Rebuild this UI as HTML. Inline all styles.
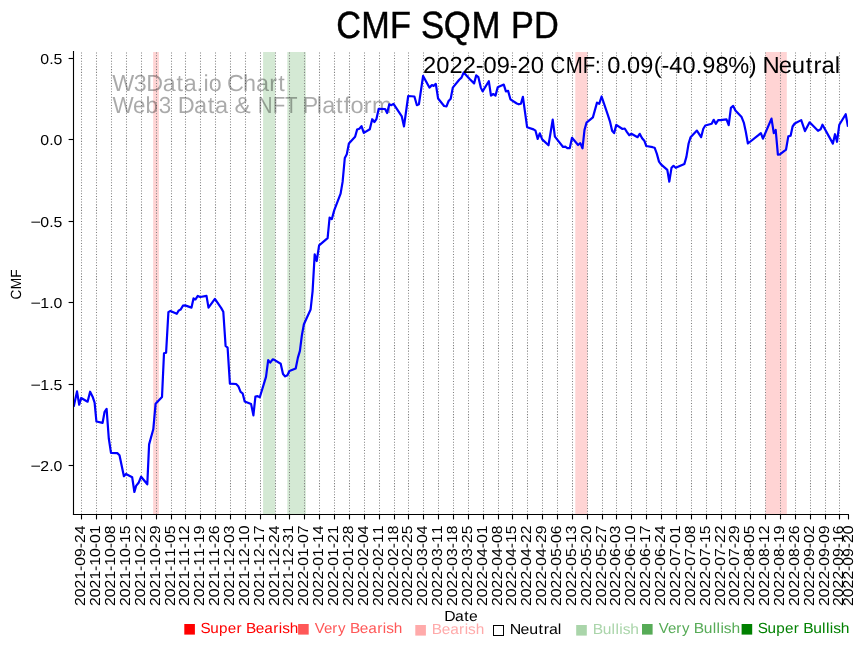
<!DOCTYPE html>
<html lang="en"><head><meta charset="utf-8"><title>CMF SQM PD</title>
<style>
html,body{margin:0;padding:0;background:#fff;}
body{width:867px;height:646px;overflow:hidden;}
svg{display:block;will-change:transform;}
text{font-family:"Liberation Sans", sans-serif;text-rendering:geometricPrecision;}
</style></head><body>
<svg width="867" height="646" viewBox="0 0 867 646">
<rect x="0" y="0" width="867" height="646" fill="#ffffff"/>
<g>
<rect x="153.15" y="52.00" width="5.75" height="462.50" fill="#ffd4d4"/>
<rect x="263.10" y="52.00" width="12.20" height="462.50" fill="#d4e9d4"/>
<rect x="287.30" y="52.00" width="18.50" height="462.50" fill="#d4e9d4"/>
<rect x="575.30" y="52.00" width="12.20" height="462.50" fill="#ffd4d4"/>
<rect x="765.50" y="52.00" width="21.30" height="462.50" fill="#ffd4d4"/>
</g>
<g stroke="#808080" stroke-width="1.04" stroke-dasharray="1.04 1.72" fill="none">
<line x1="81.5" y1="514.5" x2="81.5" y2="51.0"/>
<line x1="96.5" y1="514.5" x2="96.5" y2="51.0"/>
<line x1="111.5" y1="514.5" x2="111.5" y2="51.0"/>
<line x1="126.5" y1="514.5" x2="126.5" y2="51.0"/>
<line x1="141.5" y1="514.5" x2="141.5" y2="51.0"/>
<line x1="156.5" y1="514.5" x2="156.5" y2="51.0"/>
<line x1="171.5" y1="514.5" x2="171.5" y2="51.0"/>
<line x1="185.5" y1="514.5" x2="185.5" y2="51.0"/>
<line x1="200.5" y1="514.5" x2="200.5" y2="51.0"/>
<line x1="215.5" y1="514.5" x2="215.5" y2="51.0"/>
<line x1="230.5" y1="514.5" x2="230.5" y2="51.0"/>
<line x1="245.5" y1="514.5" x2="245.5" y2="51.0"/>
<line x1="260.5" y1="514.5" x2="260.5" y2="51.0"/>
<line x1="275.5" y1="514.5" x2="275.5" y2="51.0"/>
<line x1="289.5" y1="514.5" x2="289.5" y2="51.0"/>
<line x1="304.5" y1="514.5" x2="304.5" y2="51.0"/>
<line x1="319.5" y1="514.5" x2="319.5" y2="51.0"/>
<line x1="334.5" y1="514.5" x2="334.5" y2="51.0"/>
<line x1="349.5" y1="514.5" x2="349.5" y2="51.0"/>
<line x1="364.5" y1="514.5" x2="364.5" y2="51.0"/>
<line x1="379.5" y1="514.5" x2="379.5" y2="51.0"/>
<line x1="394.5" y1="514.5" x2="394.5" y2="51.0"/>
<line x1="408.5" y1="514.5" x2="408.5" y2="51.0"/>
<line x1="423.5" y1="514.5" x2="423.5" y2="51.0"/>
<line x1="438.5" y1="514.5" x2="438.5" y2="51.0"/>
<line x1="453.5" y1="514.5" x2="453.5" y2="51.0"/>
<line x1="468.5" y1="514.5" x2="468.5" y2="51.0"/>
<line x1="483.5" y1="514.5" x2="483.5" y2="51.0"/>
<line x1="498.5" y1="514.5" x2="498.5" y2="51.0"/>
<line x1="512.5" y1="514.5" x2="512.5" y2="51.0"/>
<line x1="527.5" y1="514.5" x2="527.5" y2="51.0"/>
<line x1="542.5" y1="514.5" x2="542.5" y2="51.0"/>
<line x1="557.5" y1="514.5" x2="557.5" y2="51.0"/>
<line x1="572.5" y1="514.5" x2="572.5" y2="51.0"/>
<line x1="587.5" y1="514.5" x2="587.5" y2="51.0"/>
<line x1="602.5" y1="514.5" x2="602.5" y2="51.0"/>
<line x1="616.5" y1="514.5" x2="616.5" y2="51.0"/>
<line x1="631.5" y1="514.5" x2="631.5" y2="51.0"/>
<line x1="646.5" y1="514.5" x2="646.5" y2="51.0"/>
<line x1="661.5" y1="514.5" x2="661.5" y2="51.0"/>
<line x1="676.5" y1="514.5" x2="676.5" y2="51.0"/>
<line x1="691.5" y1="514.5" x2="691.5" y2="51.0"/>
<line x1="706.5" y1="514.5" x2="706.5" y2="51.0"/>
<line x1="721.5" y1="514.5" x2="721.5" y2="51.0"/>
<line x1="735.5" y1="514.5" x2="735.5" y2="51.0"/>
<line x1="750.5" y1="514.5" x2="750.5" y2="51.0"/>
<line x1="765.5" y1="514.5" x2="765.5" y2="51.0"/>
<line x1="780.5" y1="514.5" x2="780.5" y2="51.0"/>
<line x1="795.5" y1="514.5" x2="795.5" y2="51.0"/>
<line x1="810.5" y1="514.5" x2="810.5" y2="51.0"/>
<line x1="825.5" y1="514.5" x2="825.5" y2="51.0"/>
<line x1="839.5" y1="514.5" x2="839.5" y2="51.0"/>
</g>
<g opacity="0.33">
<text transform="translate(112.90 91.00) scale(1.0074 1)" font-size="23.12" fill="#000" x="-0.69 20.60 33.22 49.44 63.05 70.22 83.06 89.86 95.20">W3Data.io</text>
<text transform="translate(228.28 91.00) scale(1.0124 1)" font-size="23.12" fill="#000" x="-1.17 14.46 27.28 40.40 49.30">Chart</text>
<text transform="translate(112.90 113.40) scale(0.9713 1)" font-size="23.12" fill="#000" x="-0.31 20.75 33.52 47.16">Web3</text>
<text transform="translate(178.20 113.40) scale(1.0184 1)" font-size="23.12" fill="#000" x="-0.47 15.59 29.09 36.15">Data</text>
<text transform="translate(234.56 113.40) scale(1.0532 1)" font-size="23.12" fill="#000" x="0.00">&amp;</text>
<text transform="translate(257.43 113.40) scale(0.8882 1)" font-size="23.12" fill="#000" x="0.42 17.23 30.93">NFT</text>
<text transform="translate(303.98 113.40) scale(1.0205 1)" font-size="23.12" fill="#000" x="-1.56 12.58 17.81 31.28 38.88 45.50 58.52 66.70">Platform</text>
</g>
<clipPath id="axclip"><rect x="73.5" y="51.0" width="774.5" height="463.5"/></clipPath>
<path d="M73.7 406.7 L77.0 391.4 L79.2 404.7 L81.2 398.0 L87.6 401.7 L90.1 391.7 L92.6 396.7 L94.6 402.6 L96.4 421.5 L102.6 422.8 L104.6 411.8 L106.6 408.9 L108.8 438.5 L111.0 452.9 L117.3 453.1 L119.5 455.2 L123.9 476.2 L126.0 474.0 L132.2 477.3 L134.4 492.0 L136.1 485.9 L138.6 482.8 L141.1 476.7 L147.3 484.3 L149.1 444.4 L153.3 429.3 L155.6 403.7 L162.0 397.0 L164.0 353.2 L166.1 352.7 L168.4 312.1 L170.4 310.9 L176.8 313.8 L178.8 310.4 L180.6 309.6 L182.9 305.7 L185.1 305.4 L191.5 307.6 L193.5 298.4 L195.5 299.4 L197.8 295.9 L200.2 297.0 L206.5 295.9 L208.5 307.6 L214.9 298.9 L221.1 307.9 L223.3 311.8 L225.6 346.0 L227.6 347.7 L229.9 383.7 L236.1 384.0 L238.3 386.2 L240.6 391.9 L242.6 393.3 L244.7 401.6 L251.1 404.1 L253.4 415.3 L255.4 396.6 L257.6 396.1 L259.8 397.3 L266.0 376.9 L268.2 360.1 L270.2 362.6 L272.7 359.3 L274.7 360.1 L280.7 363.8 L283.0 373.9 L285.2 376.4 L287.4 375.2 L289.4 371.0 L295.7 368.5 L297.9 357.6 L299.9 350.9 L301.9 335.1 L303.9 324.2 L310.6 309.5 L312.6 291.1 L314.7 254.3 L316.7 261.0 L319.1 245.4 L327.6 238.1 L329.6 217.5 L331.8 219.2 L334.2 210.4 L340.6 193.6 L342.6 181.9 L344.8 158.0 L346.8 154.3 L348.9 143.5 L355.1 136.8 L357.1 129.6 L359.3 128.7 L361.5 126.2 L363.8 132.9 L369.8 129.2 L372.2 119.2 L374.4 122.0 L376.4 119.2 L378.7 108.8 L385.1 109.0 L387.1 113.0 L389.3 104.3 L391.4 105.2 L393.5 103.8 L401.8 116.4 L404.0 126.4 L408.2 96.0 L414.4 96.5 L416.9 105.2 L418.9 104.3 L423.1 75.9 L429.4 87.6 L431.9 85.1 L433.6 85.9 L435.8 83.9 L438.1 98.5 L444.1 106.0 L446.5 106.3 L448.6 101.0 L450.7 98.8 L452.8 87.6 L459.2 79.7 L461.5 77.6 L463.7 72.5 L469.9 79.2 L474.1 83.4 L476.2 75.4 L478.4 77.2 L480.8 87.6 L482.6 91.4 L488.8 81.2 L491.0 95.6 L493.3 94.0 L495.5 95.6 L497.7 87.3 L503.8 84.6 L505.9 91.4 L508.1 90.9 L510.4 99.3 L516.8 103.5 L518.8 104.3 L520.9 103.8 L522.9 96.8 L527.1 127.2 L533.5 129.4 L535.5 130.7 L537.7 138.9 L539.8 133.3 L542.2 139.4 L548.5 145.3 L552.7 119.7 L554.9 136.6 L563.1 147.0 L565.3 146.6 L567.3 148.1 L569.8 148.1 L572.0 137.8 L578.1 145.0 L580.3 143.1 L582.5 148.3 L584.5 129.9 L586.5 122.7 L592.9 117.4 L597.0 102.6 L599.2 103.8 L601.6 96.5 L607.9 115.2 L610.1 121.9 L612.1 130.7 L614.1 133.1 L616.3 124.9 L622.5 129.0 L624.7 128.5 L627.0 132.1 L629.2 135.2 L631.4 133.8 L637.6 137.2 L639.7 133.8 L642.1 138.2 L644.3 140.7 L646.3 146.0 L652.6 147.2 L654.6 147.7 L656.8 153.6 L659.0 161.6 L661.0 164.4 L667.3 169.9 L669.3 181.7 L671.5 167.8 L673.5 165.8 L675.7 167.8 L684.4 163.9 L686.4 156.9 L688.6 143.5 L690.6 137.2 L696.9 130.6 L701.1 137.2 L703.3 128.8 L705.3 125.5 L711.7 123.8 L713.7 119.8 L715.8 123.8 L718.2 120.1 L720.4 120.1 L726.5 119.3 L728.7 125.1 L730.9 107.9 L733.2 105.9 L735.4 110.4 L741.6 117.1 L743.8 122.6 L745.8 131.8 L747.9 143.5 L757.8 135.7 L760.9 133.1 L762.9 138.7 L771.5 118.6 L773.8 133.1 L775.7 130.0 L777.9 154.7 L779.9 154.3 L786.0 149.7 L788.3 136.4 L790.6 135.7 L792.6 126.5 L794.7 123.5 L801.2 120.1 L805.0 131.1 L809.6 122.3 L818.0 130.8 L820.6 129.3 L822.5 124.7 L832.9 143.6 L835.0 134.2 L837.0 141.8 L839.3 124.7 L845.7 114.2 L848.0 126.8" fill="none" stroke="#0000ff" stroke-width="2.2" stroke-linejoin="round" stroke-linecap="butt" clip-path="url(#axclip)"/>
<text transform="translate(422.90 72.70) scale(1.0235 1)" font-size="23.12" fill="#000" x="0.04 12.99 25.94 38.89 51.62 59.19 72.14 84.87 92.43 105.38">2022-09-20</text>
<text transform="translate(550.60 72.70) scale(0.8831 1)" font-size="23.12" fill="#000" x="-0.11 17.02 36.55 50.24">CMF:</text>
<text transform="translate(607.12 72.70) scale(1.0209 1)" font-size="23.12" fill="#000" x="0.06 13.02 19.53 32.52 45.57 53.23 60.83 73.81 86.76 93.28 106.27 118.60 138.71">0.09(-40.98%)</text>
<text transform="translate(763.34 72.70) scale(1.0315 1)" font-size="23.12" fill="#000" x="-0.80 14.89 27.50 41.08 48.56 56.32 69.17">Neutral</text>
<g stroke="#000" stroke-width="1.11" fill="none" stroke-linecap="square">
<line x1="73.5" y1="51.65" x2="73.5" y2="514.5"/>
<line x1="73.5" y1="514.5" x2="848.4" y2="514.5"/>
</g>
<g stroke="#000" stroke-width="1.11" fill="none">
<line x1="81.5" y1="514.5" x2="81.5" y2="519.4"/>
<line x1="96.5" y1="514.5" x2="96.5" y2="519.4"/>
<line x1="111.5" y1="514.5" x2="111.5" y2="519.4"/>
<line x1="126.5" y1="514.5" x2="126.5" y2="519.4"/>
<line x1="141.5" y1="514.5" x2="141.5" y2="519.4"/>
<line x1="156.5" y1="514.5" x2="156.5" y2="519.4"/>
<line x1="171.5" y1="514.5" x2="171.5" y2="519.4"/>
<line x1="185.5" y1="514.5" x2="185.5" y2="519.4"/>
<line x1="200.5" y1="514.5" x2="200.5" y2="519.4"/>
<line x1="215.5" y1="514.5" x2="215.5" y2="519.4"/>
<line x1="230.5" y1="514.5" x2="230.5" y2="519.4"/>
<line x1="245.5" y1="514.5" x2="245.5" y2="519.4"/>
<line x1="260.5" y1="514.5" x2="260.5" y2="519.4"/>
<line x1="275.5" y1="514.5" x2="275.5" y2="519.4"/>
<line x1="289.5" y1="514.5" x2="289.5" y2="519.4"/>
<line x1="304.5" y1="514.5" x2="304.5" y2="519.4"/>
<line x1="319.5" y1="514.5" x2="319.5" y2="519.4"/>
<line x1="334.5" y1="514.5" x2="334.5" y2="519.4"/>
<line x1="349.5" y1="514.5" x2="349.5" y2="519.4"/>
<line x1="364.5" y1="514.5" x2="364.5" y2="519.4"/>
<line x1="379.5" y1="514.5" x2="379.5" y2="519.4"/>
<line x1="394.5" y1="514.5" x2="394.5" y2="519.4"/>
<line x1="408.5" y1="514.5" x2="408.5" y2="519.4"/>
<line x1="423.5" y1="514.5" x2="423.5" y2="519.4"/>
<line x1="438.5" y1="514.5" x2="438.5" y2="519.4"/>
<line x1="453.5" y1="514.5" x2="453.5" y2="519.4"/>
<line x1="468.5" y1="514.5" x2="468.5" y2="519.4"/>
<line x1="483.5" y1="514.5" x2="483.5" y2="519.4"/>
<line x1="498.5" y1="514.5" x2="498.5" y2="519.4"/>
<line x1="512.5" y1="514.5" x2="512.5" y2="519.4"/>
<line x1="527.5" y1="514.5" x2="527.5" y2="519.4"/>
<line x1="542.5" y1="514.5" x2="542.5" y2="519.4"/>
<line x1="557.5" y1="514.5" x2="557.5" y2="519.4"/>
<line x1="572.5" y1="514.5" x2="572.5" y2="519.4"/>
<line x1="587.5" y1="514.5" x2="587.5" y2="519.4"/>
<line x1="602.5" y1="514.5" x2="602.5" y2="519.4"/>
<line x1="616.5" y1="514.5" x2="616.5" y2="519.4"/>
<line x1="631.5" y1="514.5" x2="631.5" y2="519.4"/>
<line x1="646.5" y1="514.5" x2="646.5" y2="519.4"/>
<line x1="661.5" y1="514.5" x2="661.5" y2="519.4"/>
<line x1="676.5" y1="514.5" x2="676.5" y2="519.4"/>
<line x1="691.5" y1="514.5" x2="691.5" y2="519.4"/>
<line x1="706.5" y1="514.5" x2="706.5" y2="519.4"/>
<line x1="721.5" y1="514.5" x2="721.5" y2="519.4"/>
<line x1="735.5" y1="514.5" x2="735.5" y2="519.4"/>
<line x1="750.5" y1="514.5" x2="750.5" y2="519.4"/>
<line x1="765.5" y1="514.5" x2="765.5" y2="519.4"/>
<line x1="780.5" y1="514.5" x2="780.5" y2="519.4"/>
<line x1="795.5" y1="514.5" x2="795.5" y2="519.4"/>
<line x1="810.5" y1="514.5" x2="810.5" y2="519.4"/>
<line x1="825.5" y1="514.5" x2="825.5" y2="519.4"/>
<line x1="839.5" y1="514.5" x2="839.5" y2="519.4"/>
<line x1="848.5" y1="514.5" x2="848.5" y2="519.4"/>
<line x1="73.5" y1="58.5" x2="68.6" y2="58.5"/>
<line x1="73.5" y1="139.5" x2="68.6" y2="139.5"/>
<line x1="73.5" y1="221.5" x2="68.6" y2="221.5"/>
<line x1="73.5" y1="302.5" x2="68.6" y2="302.5"/>
<line x1="73.5" y1="384.5" x2="68.6" y2="384.5"/>
<line x1="73.5" y1="465.5" x2="68.6" y2="465.5"/>
</g>
<g>
<text transform="translate(62.40 63.50) scale(1.0947 1)" font-size="14.51" fill="#000" x="-20.18 -12.10 -8.07">0.5</text>
<text transform="translate(62.40 144.50) scale(1.0947 1)" font-size="14.51" fill="#000" x="-20.18 -12.10 -8.07">0.0</text>
<text transform="translate(62.40 226.50) scale(1.0947 1)" font-size="14.51" fill="#000" x="-20.18 -12.10 -8.07">0.5</text>
<text transform="translate(41.41 226.50) scale(1.2300 1)" font-size="14.51" fill="#000" x="-8.97">−</text>
<text transform="translate(62.40 307.50) scale(1.0947 1)" font-size="14.51" fill="#000" x="-20.18 -12.10 -8.07">1.0</text>
<text transform="translate(41.41 307.50) scale(1.2300 1)" font-size="14.51" fill="#000" x="-8.97">−</text>
<text transform="translate(62.40 389.50) scale(1.0947 1)" font-size="14.51" fill="#000" x="-20.18 -12.10 -8.07">1.5</text>
<text transform="translate(41.41 389.50) scale(1.2300 1)" font-size="14.51" fill="#000" x="-8.97">−</text>
<text transform="translate(62.40 470.50) scale(1.0947 1)" font-size="14.51" fill="#000" x="-20.18 -12.10 -8.07">2.0</text>
<text transform="translate(41.41 470.50) scale(1.2300 1)" font-size="14.51" fill="#000" x="-8.97">−</text>
<text transform="translate(84.80 525.40) rotate(-90) scale(1.0872 1)" font-size="14.51" fill="#000" x="-74.21 -66.09 -57.96 -49.83 -41.84 -37.09 -28.97 -20.98 -16.23 -8.10">2021-09-24</text>
<text transform="translate(99.80 525.40) rotate(-90) scale(1.0872 1)" font-size="14.51" fill="#000" x="-74.21 -66.09 -57.96 -49.83 -41.84 -37.09 -28.97 -20.98 -16.23 -8.10">2021-10-01</text>
<text transform="translate(114.80 525.40) rotate(-90) scale(1.0872 1)" font-size="14.51" fill="#000" x="-74.21 -66.09 -57.96 -49.83 -41.84 -37.09 -28.97 -20.98 -16.23 -8.10">2021-10-08</text>
<text transform="translate(129.80 525.40) rotate(-90) scale(1.0872 1)" font-size="14.51" fill="#000" x="-74.21 -66.09 -57.96 -49.83 -41.84 -37.09 -28.97 -20.98 -16.23 -8.10">2021-10-15</text>
<text transform="translate(144.80 525.40) rotate(-90) scale(1.0872 1)" font-size="14.51" fill="#000" x="-74.21 -66.09 -57.96 -49.83 -41.84 -37.09 -28.97 -20.98 -16.23 -8.10">2021-10-22</text>
<text transform="translate(159.80 525.40) rotate(-90) scale(1.0872 1)" font-size="14.51" fill="#000" x="-74.21 -66.09 -57.96 -49.83 -41.84 -37.09 -28.97 -20.98 -16.23 -8.10">2021-10-29</text>
<text transform="translate(174.80 525.40) rotate(-90) scale(1.0872 1)" font-size="14.51" fill="#000" x="-74.21 -66.09 -57.96 -49.83 -41.84 -37.09 -28.97 -20.98 -16.23 -8.10">2021-11-05</text>
<text transform="translate(188.80 525.40) rotate(-90) scale(1.0872 1)" font-size="14.51" fill="#000" x="-74.21 -66.09 -57.96 -49.83 -41.84 -37.09 -28.97 -20.98 -16.23 -8.10">2021-11-12</text>
<text transform="translate(203.80 525.40) rotate(-90) scale(1.0872 1)" font-size="14.51" fill="#000" x="-74.21 -66.09 -57.96 -49.83 -41.84 -37.09 -28.97 -20.98 -16.23 -8.10">2021-11-19</text>
<text transform="translate(218.80 525.40) rotate(-90) scale(1.0872 1)" font-size="14.51" fill="#000" x="-74.21 -66.09 -57.96 -49.83 -41.84 -37.09 -28.97 -20.98 -16.23 -8.10">2021-11-26</text>
<text transform="translate(233.80 525.40) rotate(-90) scale(1.0872 1)" font-size="14.51" fill="#000" x="-74.21 -66.09 -57.96 -49.83 -41.84 -37.09 -28.97 -20.98 -16.23 -8.10">2021-12-03</text>
<text transform="translate(248.80 525.40) rotate(-90) scale(1.0872 1)" font-size="14.51" fill="#000" x="-74.21 -66.09 -57.96 -49.83 -41.84 -37.09 -28.97 -20.98 -16.23 -8.10">2021-12-10</text>
<text transform="translate(263.80 525.40) rotate(-90) scale(1.0872 1)" font-size="14.51" fill="#000" x="-74.21 -66.09 -57.96 -49.83 -41.84 -37.09 -28.97 -20.98 -16.23 -8.10">2021-12-17</text>
<text transform="translate(278.80 525.40) rotate(-90) scale(1.0872 1)" font-size="14.51" fill="#000" x="-74.21 -66.09 -57.96 -49.83 -41.84 -37.09 -28.97 -20.98 -16.23 -8.10">2021-12-24</text>
<text transform="translate(292.80 525.40) rotate(-90) scale(1.0872 1)" font-size="14.51" fill="#000" x="-74.21 -66.09 -57.96 -49.83 -41.84 -37.09 -28.97 -20.98 -16.23 -8.10">2021-12-31</text>
<text transform="translate(307.80 525.40) rotate(-90) scale(1.0872 1)" font-size="14.51" fill="#000" x="-74.21 -66.09 -57.96 -49.83 -41.84 -37.09 -28.97 -20.98 -16.23 -8.10">2022-01-07</text>
<text transform="translate(322.80 525.40) rotate(-90) scale(1.0872 1)" font-size="14.51" fill="#000" x="-74.21 -66.09 -57.96 -49.83 -41.84 -37.09 -28.97 -20.98 -16.23 -8.10">2022-01-14</text>
<text transform="translate(337.80 525.40) rotate(-90) scale(1.0872 1)" font-size="14.51" fill="#000" x="-74.21 -66.09 -57.96 -49.83 -41.84 -37.09 -28.97 -20.98 -16.23 -8.10">2022-01-21</text>
<text transform="translate(352.80 525.40) rotate(-90) scale(1.0872 1)" font-size="14.51" fill="#000" x="-74.21 -66.09 -57.96 -49.83 -41.84 -37.09 -28.97 -20.98 -16.23 -8.10">2022-01-28</text>
<text transform="translate(367.80 525.40) rotate(-90) scale(1.0872 1)" font-size="14.51" fill="#000" x="-74.21 -66.09 -57.96 -49.83 -41.84 -37.09 -28.97 -20.98 -16.23 -8.10">2022-02-04</text>
<text transform="translate(382.80 525.40) rotate(-90) scale(1.0872 1)" font-size="14.51" fill="#000" x="-74.21 -66.09 -57.96 -49.83 -41.84 -37.09 -28.97 -20.98 -16.23 -8.10">2022-02-11</text>
<text transform="translate(397.80 525.40) rotate(-90) scale(1.0872 1)" font-size="14.51" fill="#000" x="-74.21 -66.09 -57.96 -49.83 -41.84 -37.09 -28.97 -20.98 -16.23 -8.10">2022-02-18</text>
<text transform="translate(411.80 525.40) rotate(-90) scale(1.0872 1)" font-size="14.51" fill="#000" x="-74.21 -66.09 -57.96 -49.83 -41.84 -37.09 -28.97 -20.98 -16.23 -8.10">2022-02-25</text>
<text transform="translate(426.80 525.40) rotate(-90) scale(1.0872 1)" font-size="14.51" fill="#000" x="-74.21 -66.09 -57.96 -49.83 -41.84 -37.09 -28.97 -20.98 -16.23 -8.10">2022-03-04</text>
<text transform="translate(441.80 525.40) rotate(-90) scale(1.0872 1)" font-size="14.51" fill="#000" x="-74.21 -66.09 -57.96 -49.83 -41.84 -37.09 -28.97 -20.98 -16.23 -8.10">2022-03-11</text>
<text transform="translate(456.80 525.40) rotate(-90) scale(1.0872 1)" font-size="14.51" fill="#000" x="-74.21 -66.09 -57.96 -49.83 -41.84 -37.09 -28.97 -20.98 -16.23 -8.10">2022-03-18</text>
<text transform="translate(471.80 525.40) rotate(-90) scale(1.0872 1)" font-size="14.51" fill="#000" x="-74.21 -66.09 -57.96 -49.83 -41.84 -37.09 -28.97 -20.98 -16.23 -8.10">2022-03-25</text>
<text transform="translate(486.80 525.40) rotate(-90) scale(1.0872 1)" font-size="14.51" fill="#000" x="-74.21 -66.09 -57.96 -49.83 -41.84 -37.09 -28.97 -20.98 -16.23 -8.10">2022-04-01</text>
<text transform="translate(501.80 525.40) rotate(-90) scale(1.0872 1)" font-size="14.51" fill="#000" x="-74.21 -66.09 -57.96 -49.83 -41.84 -37.09 -28.97 -20.98 -16.23 -8.10">2022-04-08</text>
<text transform="translate(515.80 525.40) rotate(-90) scale(1.0872 1)" font-size="14.51" fill="#000" x="-74.21 -66.09 -57.96 -49.83 -41.84 -37.09 -28.97 -20.98 -16.23 -8.10">2022-04-15</text>
<text transform="translate(530.80 525.40) rotate(-90) scale(1.0872 1)" font-size="14.51" fill="#000" x="-74.21 -66.09 -57.96 -49.83 -41.84 -37.09 -28.97 -20.98 -16.23 -8.10">2022-04-22</text>
<text transform="translate(545.80 525.40) rotate(-90) scale(1.0872 1)" font-size="14.51" fill="#000" x="-74.21 -66.09 -57.96 -49.83 -41.84 -37.09 -28.97 -20.98 -16.23 -8.10">2022-04-29</text>
<text transform="translate(560.80 525.40) rotate(-90) scale(1.0872 1)" font-size="14.51" fill="#000" x="-74.21 -66.09 -57.96 -49.83 -41.84 -37.09 -28.97 -20.98 -16.23 -8.10">2022-05-06</text>
<text transform="translate(575.80 525.40) rotate(-90) scale(1.0872 1)" font-size="14.51" fill="#000" x="-74.21 -66.09 -57.96 -49.83 -41.84 -37.09 -28.97 -20.98 -16.23 -8.10">2022-05-13</text>
<text transform="translate(590.80 525.40) rotate(-90) scale(1.0872 1)" font-size="14.51" fill="#000" x="-74.21 -66.09 -57.96 -49.83 -41.84 -37.09 -28.97 -20.98 -16.23 -8.10">2022-05-20</text>
<text transform="translate(605.80 525.40) rotate(-90) scale(1.0872 1)" font-size="14.51" fill="#000" x="-74.21 -66.09 -57.96 -49.83 -41.84 -37.09 -28.97 -20.98 -16.23 -8.10">2022-05-27</text>
<text transform="translate(619.80 525.40) rotate(-90) scale(1.0872 1)" font-size="14.51" fill="#000" x="-74.21 -66.09 -57.96 -49.83 -41.84 -37.09 -28.97 -20.98 -16.23 -8.10">2022-06-03</text>
<text transform="translate(634.80 525.40) rotate(-90) scale(1.0872 1)" font-size="14.51" fill="#000" x="-74.21 -66.09 -57.96 -49.83 -41.84 -37.09 -28.97 -20.98 -16.23 -8.10">2022-06-10</text>
<text transform="translate(649.80 525.40) rotate(-90) scale(1.0872 1)" font-size="14.51" fill="#000" x="-74.21 -66.09 -57.96 -49.83 -41.84 -37.09 -28.97 -20.98 -16.23 -8.10">2022-06-17</text>
<text transform="translate(664.80 525.40) rotate(-90) scale(1.0872 1)" font-size="14.51" fill="#000" x="-74.21 -66.09 -57.96 -49.83 -41.84 -37.09 -28.97 -20.98 -16.23 -8.10">2022-06-24</text>
<text transform="translate(679.80 525.40) rotate(-90) scale(1.0872 1)" font-size="14.51" fill="#000" x="-74.21 -66.09 -57.96 -49.83 -41.84 -37.09 -28.97 -20.98 -16.23 -8.10">2022-07-01</text>
<text transform="translate(694.80 525.40) rotate(-90) scale(1.0872 1)" font-size="14.51" fill="#000" x="-74.21 -66.09 -57.96 -49.83 -41.84 -37.09 -28.97 -20.98 -16.23 -8.10">2022-07-08</text>
<text transform="translate(709.80 525.40) rotate(-90) scale(1.0872 1)" font-size="14.51" fill="#000" x="-74.21 -66.09 -57.96 -49.83 -41.84 -37.09 -28.97 -20.98 -16.23 -8.10">2022-07-15</text>
<text transform="translate(724.80 525.40) rotate(-90) scale(1.0872 1)" font-size="14.51" fill="#000" x="-74.21 -66.09 -57.96 -49.83 -41.84 -37.09 -28.97 -20.98 -16.23 -8.10">2022-07-22</text>
<text transform="translate(738.80 525.40) rotate(-90) scale(1.0872 1)" font-size="14.51" fill="#000" x="-74.21 -66.09 -57.96 -49.83 -41.84 -37.09 -28.97 -20.98 -16.23 -8.10">2022-07-29</text>
<text transform="translate(753.80 525.40) rotate(-90) scale(1.0872 1)" font-size="14.51" fill="#000" x="-74.21 -66.09 -57.96 -49.83 -41.84 -37.09 -28.97 -20.98 -16.23 -8.10">2022-08-05</text>
<text transform="translate(768.80 525.40) rotate(-90) scale(1.0872 1)" font-size="14.51" fill="#000" x="-74.21 -66.09 -57.96 -49.83 -41.84 -37.09 -28.97 -20.98 -16.23 -8.10">2022-08-12</text>
<text transform="translate(783.80 525.40) rotate(-90) scale(1.0872 1)" font-size="14.51" fill="#000" x="-74.21 -66.09 -57.96 -49.83 -41.84 -37.09 -28.97 -20.98 -16.23 -8.10">2022-08-19</text>
<text transform="translate(798.80 525.40) rotate(-90) scale(1.0872 1)" font-size="14.51" fill="#000" x="-74.21 -66.09 -57.96 -49.83 -41.84 -37.09 -28.97 -20.98 -16.23 -8.10">2022-08-26</text>
<text transform="translate(813.80 525.40) rotate(-90) scale(1.0872 1)" font-size="14.51" fill="#000" x="-74.21 -66.09 -57.96 -49.83 -41.84 -37.09 -28.97 -20.98 -16.23 -8.10">2022-09-02</text>
<text transform="translate(828.80 525.40) rotate(-90) scale(1.0872 1)" font-size="14.51" fill="#000" x="-74.21 -66.09 -57.96 -49.83 -41.84 -37.09 -28.97 -20.98 -16.23 -8.10">2022-09-09</text>
<text transform="translate(842.80 525.40) rotate(-90) scale(1.0872 1)" font-size="14.51" fill="#000" x="-74.21 -66.09 -57.96 -49.83 -41.84 -37.09 -28.97 -20.98 -16.23 -8.10">2022-09-16</text>
<text transform="translate(852.80 525.40) rotate(-90) scale(1.0872 1)" font-size="14.51" fill="#000" x="-74.21 -66.09 -57.96 -49.83 -41.84 -37.09 -28.97 -20.98 -16.23 -8.10">2022-09-20</text>
<text transform="translate(444.50 621.00) scale(1.0776 1)" font-size="14.58" fill="#000" x="-0.30 9.82 18.32 22.78">Date</text>
<text transform="translate(21.40 299.30) rotate(-90) scale(0.9304 1)" font-size="14.72" fill="#000" x="-0.10 10.73 23.10">CMF</text>
</g>
<text transform="translate(336.40 38.00) scale(0.9048 1)" font-size="37.85" fill="#000" x="-0.27 27.59 59.38" stroke="#000" stroke-width="0.45">CMF</text>
<text transform="translate(421.61 38.00) scale(0.9202 1)" font-size="37.85" fill="#000" x="-0.65 24.08 54.17" stroke="#000" stroke-width="0.45">SQM</text>
<text transform="translate(511.98 38.00) scale(0.9068 1)" font-size="37.85" fill="#000" x="-1.08 24.17" stroke="#000" stroke-width="0.45">PD</text>
<g>
<rect x="184.3" y="624.0" width="10.6" height="10.6" fill="#ff0000"/>
<text transform="translate(201.20 633.00) scale(1.0456 1)" font-size="14.58" fill="#ff0000" x="-0.65 8.59 17.01 25.31 33.76">Super</text>
<text transform="translate(246.30 633.00) scale(1.0555 1)" font-size="14.58" fill="#ff0000" x="-0.35 9.02 17.10 25.46 30.80 34.03 41.22">Bearish</text>
<rect x="298.1" y="624.0" width="10.6" height="10.6" fill="#ff5757"/>
<text transform="translate(315.00 633.00) scale(1.0304 1)" font-size="14.58" fill="#ff5757" x="-0.25 8.79 16.81 22.35">Very</text>
<text transform="translate(350.31 633.00) scale(1.0555 1)" font-size="14.58" fill="#ff5757" x="-0.35 9.02 17.10 25.46 30.80 34.03 41.22">Bearish</text>
<rect x="415.3" y="625.0" width="10.6" height="10.6" fill="#ffaaaa"/>
<text transform="translate(432.20 634.00) scale(1.0555 1)" font-size="14.58" fill="#ffaaaa" x="-0.35 9.02 17.10 25.46 30.80 34.03 41.22">Bearish</text>
<rect x="493.5" y="625.5" width="10" height="10" fill="none" stroke="#000000" stroke-width="1"/>
<text transform="translate(510.30 634.00) scale(1.0904 1)" font-size="14.58" fill="#000000" x="-0.50 9.39 17.35 25.91 30.62 35.51 43.62">Neutral</text>
<rect x="576.2" y="625.0" width="10.6" height="10.6" fill="#aad5aa"/>
<text transform="translate(593.10 634.00) scale(1.0695 1)" font-size="14.58" fill="#aad5aa" x="-0.41 8.97 17.32 20.93 24.54 27.70 34.79">Bullish</text>
<rect x="642.0" y="624.0" width="10.6" height="10.6" fill="#57ab57"/>
<text transform="translate(658.90 633.00) scale(1.0304 1)" font-size="14.58" fill="#57ab57" x="-0.25 8.79 16.81 22.35">Very</text>
<text transform="translate(694.21 633.00) scale(1.0695 1)" font-size="14.58" fill="#57ab57" x="-0.41 8.97 17.32 20.93 24.54 27.70 34.79">Bullish</text>
<rect x="741.6" y="624.0" width="10.6" height="10.6" fill="#008000"/>
<text transform="translate(758.50 633.00) scale(1.0456 1)" font-size="14.58" fill="#008000" x="-0.65 8.59 17.01 25.31 33.76">Super</text>
<text transform="translate(803.60 633.00) scale(1.0695 1)" font-size="14.58" fill="#008000" x="-0.41 8.97 17.32 20.93 24.54 27.70 34.79">Bullish</text>
</g>
</svg>
</body></html>
